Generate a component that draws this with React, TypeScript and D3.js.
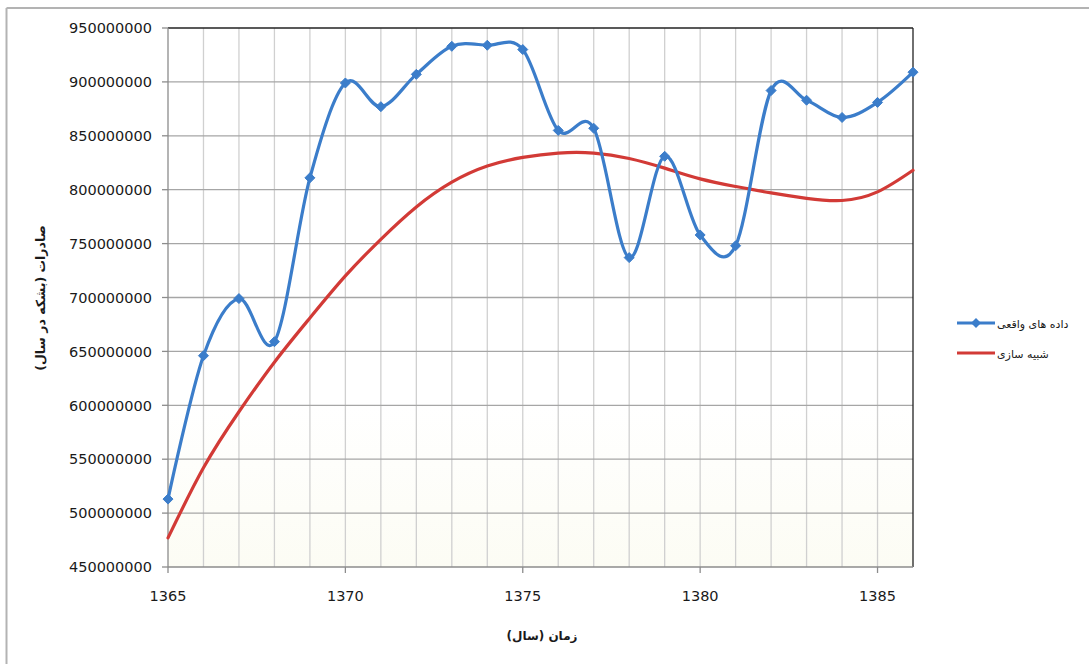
import React from "react";
import * as d3 from "d3";

const years = [1365,1366,1367,1368,1369,1370,1371,1372,1373,1374,1375,1376,1377,1378,1379,1380,1381,1382,1383,1384,1385,1386];
const realValues = [513,646,699,659,811,899,877,907,933,934,930,855,857,737,831,758,748,892,883,867,881,909].map(v => v * 1e6);
const simValues = [477,542,594,640,681,720,754,784,807,822,830,834,834,829,820,810,803,797,792,790,798,818].map(v => v * 1e6);
const yTicks = [450,500,550,600,650,700,750,800,850,900,950].map(v => v * 1e6);
const xTickLabels = [1365,1370,1375,1380,1385];
const seriesNames = ["داده های واقعی", "شبیه سازی"];
const xTitle = "زمان (سال)";
const yTitle = "صادرات (بشکه در سال)";

const W = 1089, H = 664;
const L = 168, R = 913, T = 28, B = 567;
const BLUE = "#3b7dca";
const RED = "#d23a36";
const FONT = "'DejaVu Sans', Verdana, sans-serif";
const rtl = (s: string) => "\u202B" + s + "\u202C";

export default function App() {
  const x = d3.scaleLinear().domain([1365, 1386]).range([L, R]);
  const y = d3.scaleLinear().domain([450e6, 950e6]).range([B, T]);
  const lineGen = d3.line<number>().x((_, i) => x(years[i])).y(d => y(d)).curve(d3.curveCardinal.tension(0));
  const simGen = d3.line<number>().x((_, i) => x(years[i])).y(d => y(d)).curve(d3.curveNatural);
  const diamond = (cx: number, cy: number, r: number) => `M${cx},${cy - r}L${cx + r},${cy}L${cx},${cy + r}L${cx - r},${cy}Z`;

  return (
    <svg width={W} height={H} style={{ position: "absolute", left: 0, top: 0, background: "#fff" }} fontFamily={FONT}>
      <defs>
        <linearGradient id="plotbg" x1="0" y1="0" x2="0" y2="1">
          <stop offset="0" stopColor="#ffffff" />
          <stop offset="0.7" stopColor="#ffffff" />
          <stop offset="1" stopColor="#fcfcf4" />
        </linearGradient>
      </defs>
      {/* outer border */}
      <line x1={6.5} y1={8} x2={W} y2={8} stroke="#b3b3b3" strokeWidth={2} />
      <line x1={6.5} y1={8} x2={6.5} y2={H} stroke="#b3b3b3" strokeWidth={2} />

      <rect x={L} y={T} width={R - L} height={B - T} fill="url(#plotbg)" />
      {/* vertical minor gridlines */}
      {years.slice(1, -1).map(yr => (
        <line key={"v" + yr} x1={x(yr)} x2={x(yr)} y1={T} y2={B} stroke="#d0d0d0" strokeWidth={1.3} />
      ))}
      {/* horizontal gridlines */}
      {yTicks.slice(1, -1).map(v => (
        <line key={"h" + v} x1={L} x2={R} y1={y(v)} y2={y(v)} stroke="#a6a6a6" strokeWidth={1.3} />
      ))}
      {/* plot frame */}
      <line x1={L} x2={R} y1={T} y2={T} stroke="#222" strokeWidth={1.3} />
      <line x1={R} x2={R} y1={T} y2={B} stroke="#222" strokeWidth={1.3} />
      <line x1={L} x2={R} y1={B} y2={B} stroke="#8c8c8c" strokeWidth={1.3} />
      <line x1={L} x2={L} y1={T} y2={B} stroke="#8c8c8c" strokeWidth={1.3} />

      {/* y ticks & labels */}
      {yTicks.map(v => (
        <g key={"yt" + v}>
          <line x1={L - 6} x2={L} y1={y(v)} y2={y(v)} stroke="#8c8c8c" strokeWidth={1.3} />
          <text x={152} y={y(v)} dy="0.36em" textAnchor="end" fontSize={14.5} fill="#1a1a1a">{v.toFixed(0)}</text>
        </g>
      ))}
      {/* x ticks & labels */}
      {xTickLabels.map(v => (
        <g key={"xt" + v}>
          <line x1={x(v)} x2={x(v)} y1={B} y2={B + 6} stroke="#8c8c8c" strokeWidth={1.3} />
          <text x={x(v)} y={601} textAnchor="middle" fontSize={14.5} fill="#1a1a1a">{v}</text>
        </g>
      ))}

      {/* series */}
      <path d={simGen(simValues) || ""} fill="none" stroke={RED} strokeWidth={3.2} strokeLinecap="round" />
      <path d={lineGen(realValues) || ""} fill="none" stroke={BLUE} strokeWidth={3.2} strokeLinecap="round" />
      {realValues.map((v, i) => (
        <path key={"m" + i} d={diamond(x(years[i]), y(v), 5)} fill={BLUE} stroke={BLUE} strokeWidth={1} />
      ))}

      {/* axis titles */}
      <text x={542} y={640} textAnchor="middle" fontSize={12} fontWeight="bold" fill="#1a1a1a">{rtl(xTitle)}</text>
      <text transform={`translate(45,298) rotate(-90)`} textAnchor="middle" fontSize={12.5} fontWeight="bold" fill="#1a1a1a">{rtl(yTitle)}</text>

      {/* legend */}
      <line x1={957} x2={995} y1={323} y2={323} stroke={BLUE} strokeWidth={3.2} />
      <path d={diamond(976, 323, 5)} fill={BLUE} />
      <text x={997} y={328} textAnchor="start" fontSize={11} fill="#1a1a1a">{rtl(seriesNames[0])}</text>
      <line x1={957} x2={995} y1={353} y2={353} stroke={RED} strokeWidth={3.2} />
      <text x={997} y={358} textAnchor="start" fontSize={11} fill="#1a1a1a">{rtl(seriesNames[1])}</text>
    </svg>
  );
}
